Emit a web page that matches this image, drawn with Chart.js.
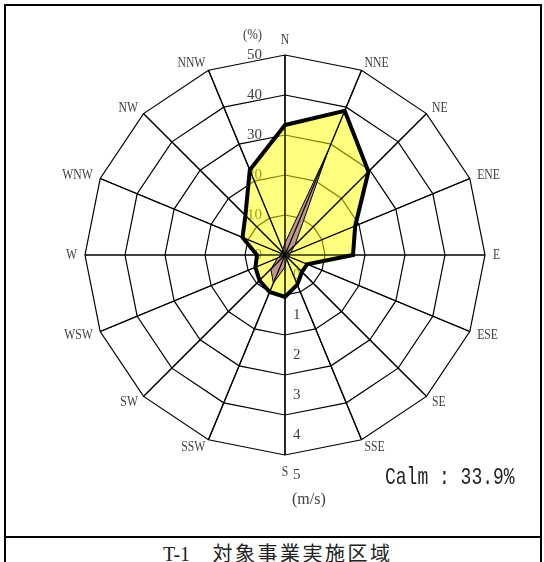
<!DOCTYPE html>
<html>
<head>
<meta charset="utf-8">
<script src="https://cdn.jsdelivr.net/npm/chart.js@4.4.1/dist/chart.umd.min.js"></script>
<style>
  body { margin: 0; width: 544px; height: 562px; overflow: hidden; position: relative; background: #fff; }
  #frame { position: absolute; left: 4px; top: 4px; width: 534px; height: 620px; border: 2px solid #000; }
  #sep { position: absolute; left: 4px; top: 536px; width: 538px; border-top: 2px solid #000; }
  #box { position: absolute; left: 0; top: 0; width: 544px; height: 537px; }
  .t { position: absolute; white-space: nowrap; color: #404040; font-family: "Liberation Serif", serif; }
  #unitPct { left: 243px; top: 26px; font-size: 15px; transform: scaleX(0.85); transform-origin: left center; }
  #unitSpd { left: 292px; top: 490px; font-size: 16px; line-height: 18px; }
  #calm { left: 385px; top: 466px; font-family: "Liberation Mono", monospace; font-size: 18px; line-height: 22px;
          color: #222; transform: scaleY(1.3); transform-origin: left center; }
  #cap { left: 163px; top: 542px; font-family: "Noto Sans CJK JP", sans-serif; font-size: 20px; line-height: 22px;
         letter-spacing: 2.5px; color: #222; }
  #cap span { font-family: "Liberation Serif", serif; font-size: 20px; letter-spacing: 0; }
</style>
</head>
<body>
<div id="frame"></div>
<div id="sep"></div>
<div id="box"><canvas id="rose"></canvas></div>
<div class="t" id="unitPct">(%)</div>
<div class="t" id="unitSpd">(m/s)</div>
<div class="t" id="calm"></div>
<div class="t" id="cap"><span>T-1</span>　対象事業実施区域</div>
<script>
const directions = ['N', 'NNE', 'NE', 'ENE', 'E', 'ESE', 'SE', 'SSE',
                    'S', 'SSW', 'SW', 'WSW', 'W', 'WNW', 'NW', 'NNW'];
// 風向出現頻度 (%)
const frequency = [32.5, 39, 29.5, 19, 17, 6, 6, 8,
                   10.5, 10, 9, 8, 7, 11.5, 14, 23];
// 平均風速 (m/s)
const speed = [0.3, 2.8, 0.35, 0.15, 0.1, 0.1, 0.1, 0.1,
               0.3, 0.76, 0.5, 0.2, 0.1, 0.1, 0.1, 0.15];
const pctTicks = [0, 10, 20, 30, 40, 50];
const speedTicks = [0, 1, 2, 3, 4, 5];
const calm = 33.9;

document.getElementById('calm').textContent = 'Calm : ' + calm.toFixed(1) + '%';

function narrowText(ctx, text, x, y, sx) {
    ctx.save();
    ctx.translate(x, y);
    ctx.scale(sx, 1);
    ctx.fillText(text, 0, 0);
    ctx.restore();
}

const roseText = {
    id: 'roseText',
    beforeDatasetsDraw(chart) {
        const r = chart.scales.r, s = chart.scales.rs, ctx = chart.ctx;
        ctx.save();
        ctx.fillStyle = '#404040';
        ctx.font = '15px "Liberation Serif"';
        ctx.textBaseline = 'middle';
        ctx.textAlign = 'right';
        pctTicks.forEach(v => {
            narrowText(ctx, String(v), r.xCenter - 23, r.yCenter - r.getDistanceFromCenterForValue(v), 1);
        });
        ctx.textAlign = 'left';
        speedTicks.forEach(v => {
            narrowText(ctx, String(v), s.xCenter + 8, s.yCenter + s.getDistanceFromCenterForValue(v + 0.5), 1);
        });
        ctx.restore();
    },
    afterDatasetsDraw(chart) {
        const r = chart.scales.r, ctx = chart.ctx;
        ctx.save();
        ctx.strokeStyle = '#000';
        ctx.lineWidth = 1.2;
        directions.forEach((d, i) => {
            const p = r.getPointPosition(i, r.drawingArea);
            ctx.beginPath();
            ctx.moveTo(r.xCenter, r.yCenter);
            ctx.lineTo(p.x, p.y);
            ctx.stroke();
        });
        // 方位ラベル
        ctx.fillStyle = '#404040';
        ctx.font = '15px "Liberation Serif"';
        ctx.textBaseline = 'middle';
        directions.forEach((d, i) => {
            const p = r.getPointPosition(i, r.drawingArea + 8);
            const dx = p.x - r.xCenter;
            let y = p.y;
            if (Math.abs(dx) < 1) {
                ctx.textAlign = 'center';
                y += p.y < r.yCenter ? -7 : 9;
            } else {
                ctx.textAlign = dx > 0 ? 'left' : 'right';
            }
            narrowText(ctx, d, p.x, y, 0.78);
        });
        ctx.restore();
    }
};

new Chart(document.getElementById('rose'), {
    type: 'radar',
    data: {
        labels: directions,
        datasets: [{
            label: '平均風速',
            data: speed,
            rAxisID: 'rs',
            backgroundColor: '#BA968C',
            borderColor: '#000',
            borderWidth: 1,
            pointRadius: 0,
            fill: true
        },
        {
            label: '出現頻度',
            data: frequency,
            rAxisID: 'r',
            backgroundColor: 'rgba(255, 255, 0, 0.5)',
            borderColor: '#000',
            borderWidth: 4,
            pointRadius: 0,
            fill: true
        }]
    },
    options: {
        responsive: true,
        maintainAspectRatio: false,
        animation: false,
        layout: { padding: { left: 85, top: 55, right: 59, bottom: 82 } },
        plugins: {
            legend: { display: false },
            tooltip: { enabled: false }
        },
        scales: {
            r: {
                type: 'radialLinear',
                min: 0,
                max: 50,
                ticks: { display: false, stepSize: 10 },
                grid: { color: '#000', lineWidth: 1.2 },
                angleLines: { display: true, color: '#000', lineWidth: 1.2 },
                pointLabels: { display: false }
            },
            rs: {
                type: 'radialLinear',
                axis: 'r',
                display: false,
                min: 0,
                max: 5,
                ticks: { display: false, stepSize: 1 },
                pointLabels: { display: false }
            }
        }
    },
    plugins: [roseText]
});
</script>
</body>
</html>
